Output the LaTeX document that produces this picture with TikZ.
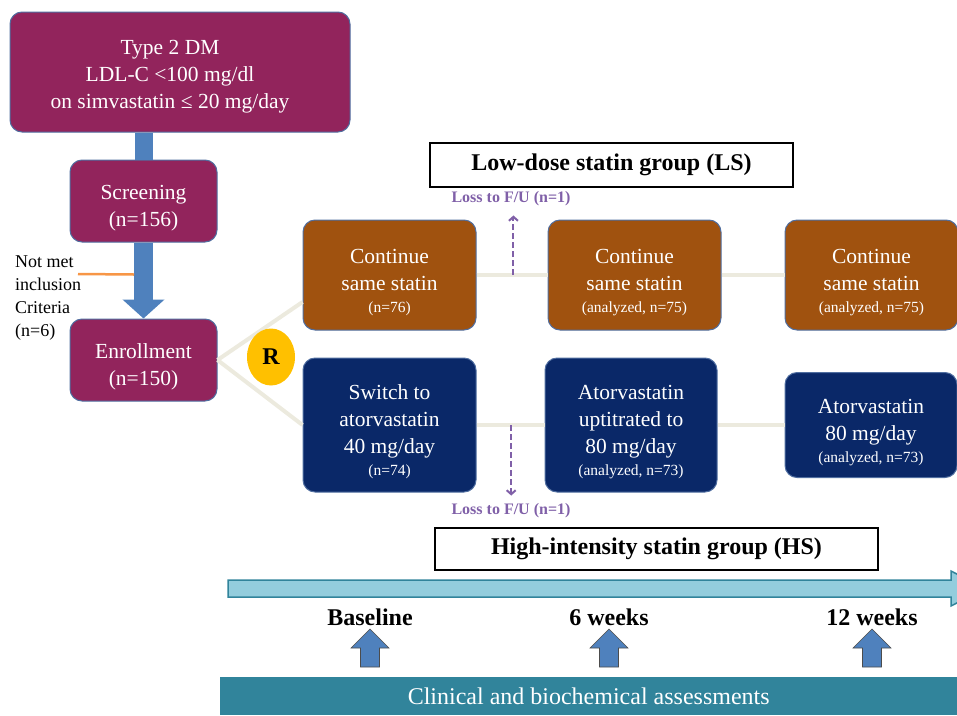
\documentclass[tikz,border=0pt]{standalone}
\usepackage{fontspec}
\setmainfont{Liberation Serif}
\usepackage{xcolor}
\usepackage{tikz}
\usetikzlibrary{shapes.geometric, arrows.meta, positioning, calc}

\definecolor{cplum}{RGB}{146,36,92}
\definecolor{crust}{RGB}{160,82,15}
\definecolor{cnavy}{RGB}{10,40,104}
\definecolor{cedge}{RGB}{80,110,160}
\definecolor{cflow}{RGB}{79,129,189}
\definecolor{cexcl}{RGB}{247,150,70}
\definecolor{clink}{RGB}{236,234,222}
\definecolor{crand}{RGB}{255,192,0}
\definecolor{closs}{RGB}{128,96,168}
\definecolor{ctime}{RGB}{147,205,221}
\definecolor{cbar}{RGB}{49,132,155}
\newcommand{\smalltxt}{\fontsize{15.5}{19}\selectfont}
\newcommand{\lift}{\rule{0pt}{29pt}}

\begin{document}
\begin{tikzpicture}[
    x=1pt, y=-1pt,
    box/.style={draw=cedge, line width=1pt, rounded corners=12pt, align=center, text=white, font=\fontsize{21.5}{27}\selectfont, inner sep=2pt},
    grp/.style={draw=black, line width=1.8pt, fill=white, font=\bfseries\fontsize{24}{24}\selectfont},
    link/.style={draw=clink, line width=4pt},
    flowarrow/.style={draw=cflow, line width=19pt, -{Triangle[width=41pt, length=19pt]}},
    lossarrow/.style={draw=closs, line width=2pt, dash pattern=on 6pt off 3pt, -{Straight Barb[length=4pt, width=9pt]}},
    losstxt/.style={text=closs, font=\bfseries\fontsize{16}{16}\selectfont, inner sep=1pt},
    tlabel/.style={font=\bfseries\fontsize{24}{24}\selectfont},
    upblock/.style={fill=cflow, draw=black!70, line width=0.6pt}
]
    \useasboundingbox (0,0) rectangle (957,715);

    \node[box, fill=cplum, minimum width=340pt, minimum height=120pt] (dm) at (180,72) {\rule{0pt}{23pt}Type 2 DM\kern20pt\\LDL-C {<}100 mg/dl\kern20pt\\on simvastatin ≤ 20 mg/day\kern20pt};
    \node[box, fill=cplum, minimum width=147pt, minimum height=82pt] (scr) at (143.5,201) {\lift Screening\\(n=156)};
    \node[box, fill=cplum, minimum width=147pt, minimum height=82pt, below=76pt of scr] (enr) {\lift Enrollment\\(n=150)};
    \node[align=left, anchor=north west, inner sep=0pt, font=\fontsize{18}{23}\selectfont] (nm) at (15,256) {Not met\\inclusion\\Criteria\\(n=6)};

    \draw[draw=cflow, line width=18pt] (scr.north |- dm.south) -- (scr.north);
    \draw[flowarrow] (scr.south) -- (enr.north);
    \coordinate (cutL) at (78,274);
    \coordinate (cutR) at ($(scr.south)+(-9.5,32)$);
    \draw[draw=cexcl, line width=2.5pt] (cutL) -- (cutR);

    \node[box, fill=crust, minimum width=173pt, minimum height=110pt] (ls1) at (389.5,275) {\lift Continue\\same statin\\[-5pt]{\smalltxt (n=76)}};
    \node[box, fill=crust, minimum width=173pt, minimum height=110pt, right=71pt of ls1] (ls2) {\lift Continue\\same statin\\[-5pt]{\smalltxt (analyzed, n=75)}};
    \node[box, fill=crust, minimum width=173pt, minimum height=110pt, right=63pt of ls2] (ls3) {\lift Continue\\same statin\\[-5pt]{\smalltxt (analyzed, n=75)}};

    \node[box, fill=cnavy, minimum width=173pt, minimum height=134pt] (hs1) at (389.5,425) {\lift Switch to\\atorvastatin\\40 mg/day\\[-5pt]{\smalltxt (n=74)}};
    \node[box, fill=cnavy, minimum width=172pt, minimum height=134pt, right=68pt of hs1] (hs2) {\lift Atorvastatin\\uptitrated to\\80 mg/day\\[-5pt]{\smalltxt (analyzed, n=73)}};
    \node[box, fill=cnavy, minimum width=172pt, minimum height=105pt, right=67pt of hs2] (hs3) {\lift Atorvastatin\\80 mg/day\\[-5pt]{\smalltxt (analyzed, n=73)}};

    \draw[link] (enr.east) -- ($(ls1.west)+(0,27)$);
    \draw[link] (enr.east) -- (hs1.west);
    \draw[link] (ls1) -- (ls2);
    \draw[link] (ls2) -- (ls3);
    \draw[link] (hs1) -- (hs2);
    \draw[link] (hs2) -- (hs3);

    \node[ellipse, fill=crand, minimum width=48pt, minimum height=57pt, inner sep=0pt, font=\bfseries\fontsize{24}{24}\selectfont] (rnd) at (271,357) {R};

    \node[grp, minimum width=363pt, minimum height=44pt] (lsg) at (611.5,165) {Low-dose statin group (LS)};
    \node[grp, minimum width=443pt, minimum height=42pt] (hsg) at (656.5,549) {High-intensity statin group (HS)};

    \node[losstxt] (loss1) at (511,199) {Loss to F/U (n=1)};
    \node[losstxt] (loss2) at (511,511) {Loss to F/U (n=1)};
    \coordinate (fu1) at ($(ls1.east)!0.52!(ls2.west)$);
    \coordinate (fu2) at ($(hs1.east)!0.51!(hs2.west)$);
    \draw[lossarrow, shorten >=8pt] (fu1) -- (fu1 |- loss1.south);
    \draw[lossarrow, shorten >=7pt] (fu2) -- (fu2 |- loss2.north);

    \draw[fill=ctime, draw=cbar, line width=1.5pt] (228,580) -- (951,580) -- (951,571) -- (985,588.5) -- (951,606) -- (951,597) -- (228,597) -- cycle;

    \node[fill=cbar, minimum width=737pt, minimum height=38pt, anchor=north west, inner sep=0pt, text=white, font=\fontsize{24}{24}\selectfont] (bar) at (220,677) {Clinical and biochemical assessments};

    \node[tlabel] (t0) at (370,617) {Baseline};
    \node[tlabel] (t6) at (609,617) {6 weeks};
    \node[tlabel] (t12) at (872,617) {12 weeks};
    \foreach \t in {t0,t6,t12}
        \draw[upblock] ($(\t.south |- bar.north)+(-9.5,-10)$) -- ++(0,-19) -- ++(-9.5,0) -- ++(19,-19) -- ++(19,19) -- ++(-9.5,0) -- ++(0,19) -- cycle;
\end{tikzpicture}
\end{document}
